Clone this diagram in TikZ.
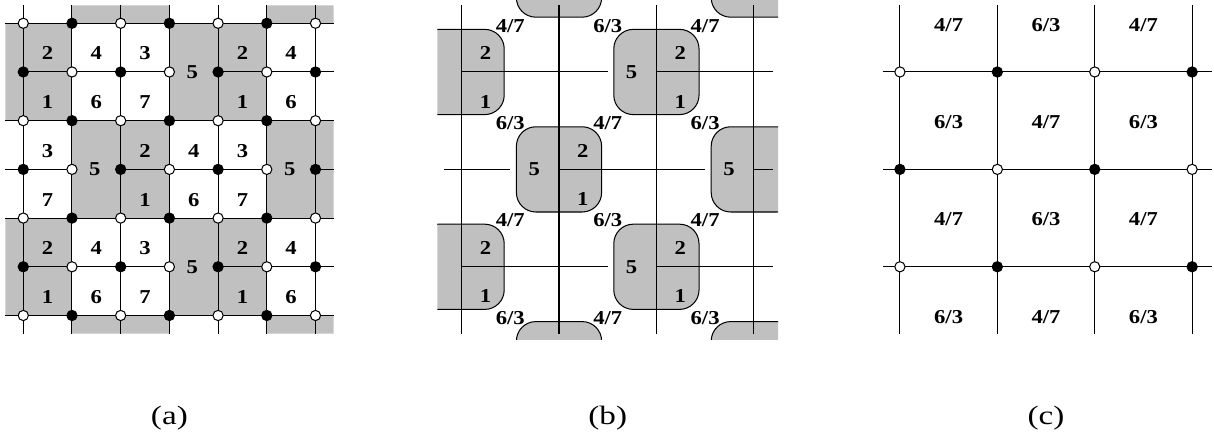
\documentclass[tikz,border=0pt]{standalone}
\usepackage{fontspec}
\setmainfont{Liberation Serif}
\newfontfamily\labfont[FakeStretch=1.15]{Liberation Serif}
\newfontfamily\capfont[FakeStretch=1.25]{Liberation Serif}
\definecolor{cellgray}{RGB}{192,192,192}
\tikzset{
  grid line/.style={black,line width=0.6pt},
  vopen/.style={circle,draw=black,line width=0.6pt,fill=white,inner sep=0pt,minimum size=2.1mm},
  vfull/.style={vopen,fill=black},
  num/.style={font=\labfont\fontsize{11.5}{13}\selectfont\bfseries,inner sep=0pt},
  capt/.style={font=\capfont\fontsize{15.5}{19}\selectfont},
  cellbox/.style={draw=black,line width=0.6pt,fill=cellgray,rounded corners=0.4cm}
}

\begin{document}
\begin{tikzpicture}
\useasboundingbox (-0.478,0.478) rectangle (24.449,-8.659);

% (a) shaded blocks
\fill[cellgray] (-0.37,0) rectangle (1,-2) (3,0) rectangle (5,-2)
  (-0.37,-4) rectangle (1,-6) (3,-4) rectangle (5,-6)
  (1,0.37) rectangle (3,0) (5,0.37) rectangle (6.37,0)
  (1,-2) rectangle (3,-4) (5,-2) rectangle (6.37,-4)
  (1,-6) rectangle (3,-6.37) (5,-6) rectangle (6.37,-6.37);

% (a) lattice
\foreach \i in {0,...,6} \draw[grid line] (\i,0.37) -- (\i,-6.37);
\foreach \j in {0,2,4,6} \draw[grid line] (-0.37,-\j) -- (6.37,-\j);
\draw[grid line] (0,-1) -- (3,-1) (4,-1) -- (6.37,-1);
\draw[grid line] (-0.37,-3) -- (1,-3) (2,-3) -- (5,-3) (6,-3) -- (6.37,-3);
\draw[grid line] (0,-5) -- (3,-5) (4,-5) -- (6.37,-5);

\foreach \r in {0,4} {
  \foreach \c/\t/\b in {0/2/1,1/4/6,2/3/7,4/2/1,5/4/6} {
    \node[num] (at-\c-\r) at (\c+0.5,-\r-0.62) {\t};
    \node[num] (ab-\c-\r) at (\c+0.5,-\r-1.62) {\b};
  }
  \node[num] (af-\r) at (3.47,-\r-1) {5};
}
\foreach \c/\t/\b in {0/3/7,2/2/1,3/4/6,4/3/7} {
  \node[num] (at-\c-2) at (\c+0.5,-2.62) {\t};
  \node[num] (ab-\c-2) at (\c+0.5,-3.62) {\b};
}
\node[num] (af-2a) at (1.47,-3) {5};
\node[num] (af-2b) at (5.47,-3) {5};

\foreach \i in {0,...,6} {
  \foreach \j in {0,...,6} {
    \pgfmathtruncatemacro\odd{mod(\i+\j,2)}
    \ifnum\odd=0
      \node[vopen] (va-\i-\j) at (\i,-\j) {};
    \else
      \node[vfull] (va-\i-\j) at (\i,-\j) {};
    \fi
  }
}

% (b) rounded cells
\begin{scope}
\clip (8.5,0.5) rectangle (15.5,-6.5);
\foreach \x/\y in {11/1,15/1,9/-1,13/-1,11/-3,15/-3,9/-5,13/-5,11/-7,15/-7}
  \draw[cellbox] (\x-0.875,\y-0.875) rectangle (\x+0.875,\y+0.875);
\end{scope}
\foreach \x in {9,11,13,15} \draw[grid line] (\x,0.37) -- (\x,-6.37);
\draw[grid line] (9,-1) -- (12,-1) (13,-1) -- (15.4,-1);
\draw[grid line] (8.63,-3) -- (10,-3) (11,-3) -- (14,-3) (15,-3) -- (15.4,-3);
\draw[grid line] (9,-5) -- (12,-5) (13,-5) -- (15.4,-5);

\foreach \x/\y in {9/-1,13/-1,11/-3,9/-5,13/-5} {
  \node[num] (bt-\x\y) at (\x+0.49,\y+0.38) {2};
  \node[num] (bb-\x\y) at (\x+0.49,\y-0.61) {1};
}
\foreach \x/\y in {13/-1,11/-3,15/-3,13/-5}
  \node[num] (bf-\x\y) at (\x-0.51,\y) {5};

\foreach \y/\p/\q in {0/4/6,-2/6/4,-4/4/6,-6/6/4} {
  \node[num] (bl-10\y) at (10,\y-0.05) {\p/\ifnum\p=4 7\else 3\fi};
  \node[num] (bl-12\y) at (12,\y-0.05) {\q/\ifnum\q=4 7\else 3\fi};
  \node[num] (bl-14\y) at (14,\y-0.05) {\p/\ifnum\p=4 7\else 3\fi};
}

% (c) coarse lattice
\foreach \x in {18,20,22,24} \draw[grid line] (\x,0.37) -- (\x,-6.37);
\foreach \y in {-1,-3,-5} \draw[grid line] (17.65,\y) -- (24.4,\y);
\foreach \y/\p/\q in {0/4/6,-2/6/4,-4/4/6,-6/6/4} {
  \node[num] (cl-19\y) at (19,\y-0.03) {\p/\ifnum\p=4 7\else 3\fi};
  \node[num] (cl-21\y) at (21,\y-0.03) {\q/\ifnum\q=4 7\else 3\fi};
  \node[num] (cl-23\y) at (23,\y-0.03) {\p/\ifnum\p=4 7\else 3\fi};
}
\foreach \k in {0,...,3} {
  \foreach \m in {0,1,2} {
    \pgfmathtruncatemacro\odd{mod(\k+\m,2)}
    \ifnum\odd=0
      \node[vopen] (vc-\k-\m) at (18+2*\k,-1-2*\m) {};
    \else
      \node[vfull] (vc-\k-\m) at (18+2*\k,-1-2*\m) {};
    \fi
  }
}

\node[capt] (capa) at (3,-8.11) {(a)};
\node[capt] (capb) at (12,-8.11) {(b)};
\node[capt] (capc) at (21,-8.11) {(c)};
\end{tikzpicture}
\end{document}
